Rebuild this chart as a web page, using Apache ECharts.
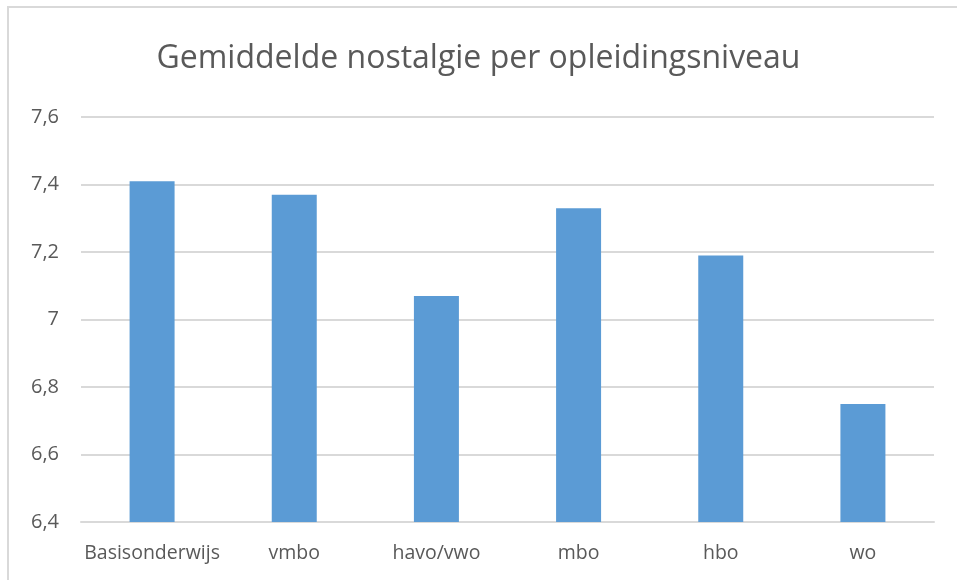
<!DOCTYPE html>
<html>
<head>
<meta charset="utf-8">
<script src="https://cdn.jsdelivr.net/npm/echarts@6/dist/echarts.min.js"></script>
<style>
html,body{margin:0;padding:0;background:#fff;}
#frame{position:absolute;left:7px;top:6px;width:950px;height:574px;border-left:2px solid #d9d9d9;border-top:2px solid #d9d9d9;box-sizing:border-box;}
#chart{position:absolute;left:0;top:0;width:957px;height:580px;}
</style>
</head>
<body>
<div id="frame"></div>
<div id="chart"></div>
<script>
const categories = ['Basisonderwijs', 'vmbo', 'havo/vwo', 'mbo', 'hbo', 'wo'];
const values = [7.41, 7.37, 7.07, 7.33, 7.19, 6.75];
const yMin = 6.4, yMax = 7.6, yStep = 0.2;

const chart = echarts.init(document.getElementById('chart'), null, {renderer: 'canvas'});
const font = 'Open Sans';
chart.setOption({
  backgroundColor: 'transparent',
  animation: false,
  title: {
    text: 'Gemiddelde nostalgie per opleidingsniveau',
    left: 'center',
    top: 38,
    textStyle: {fontFamily: font, fontSize: 32, fontWeight: 'normal', color: '#595959'}
  },
  grid: {left: 81, right: 23, top: 117, bottom: 58, containLabel: false},
  xAxis: {
    type: 'category',
    data: categories,
    axisLine: {show: true, lineStyle: {color: '#d9d9d9', width: 2}},
    axisTick: {show: false},
    axisLabel: {interval: 0, fontFamily: font, fontSize: 19.5, color: '#595959', margin: 21}
  },
  yAxis: {
    type: 'value',
    min: yMin, max: yMax, interval: yStep,
    axisLine: {show: false},
    axisTick: {show: false},
    splitLine: {lineStyle: {color: '#d9d9d9', width: 2}},
    axisLabel: {
      fontFamily: font, fontSize: 20, color: '#595959', margin: 22,
      formatter: v => (Math.round(v * 10) / 10).toString().replace('.', ',')
    }
  },
  series: [{
    type: 'bar',
    data: values,
    barWidth: 45,
    itemStyle: {color: '#5b9bd5'}
  }]
});
</script>
</body>
</html>
